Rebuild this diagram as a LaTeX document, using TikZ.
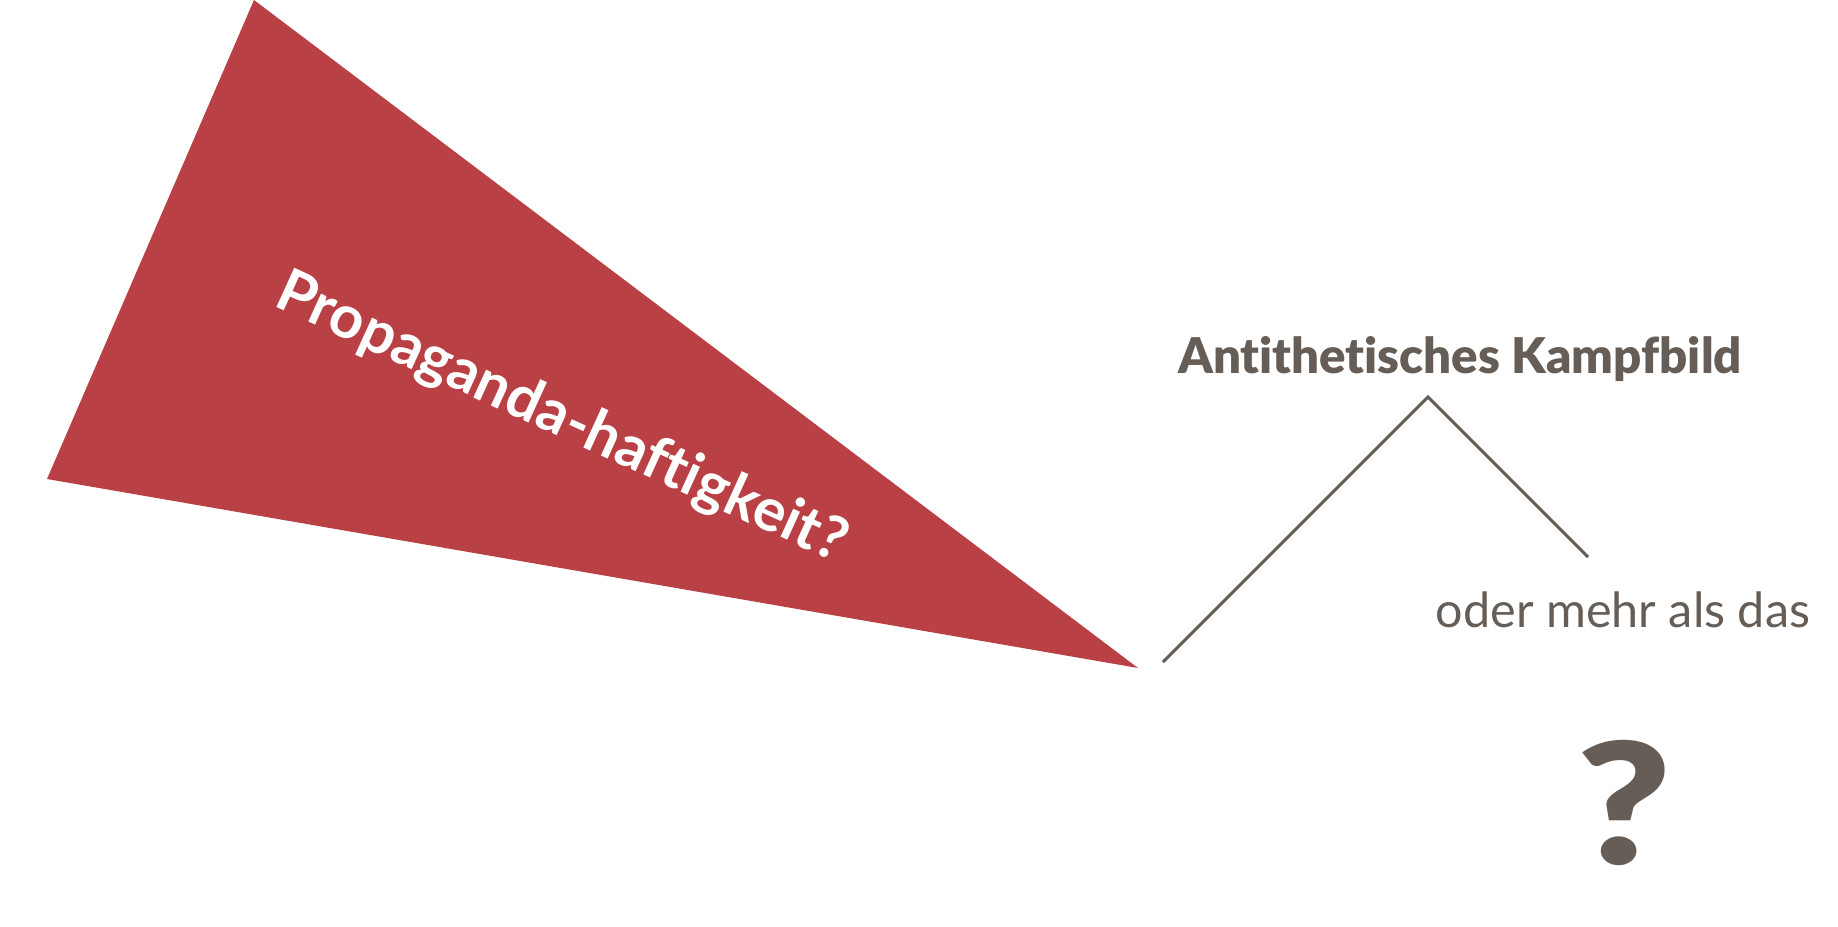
\documentclass[tikz,border=0pt]{standalone}
\usepackage{fontspec}
\setmainfont[Ligatures=NoCommon]{Lato}
\newfontfamily\latoblack[Ligatures=NoCommon]{Lato Black}
\usetikzlibrary{
    positioning,
    calc
}
\definecolor{WedgeRed}{RGB}{185,64,68}
\definecolor{WarmGray}{RGB}{101,93,86}
\tikzset{
  wedge/.style   = {fill=WedgeRed, draw=none},
  wedgetxt/.style= {text=white, font=\bfseries\fontsize{17}{18}\selectfont, rotate=-24.5},
  title/.style   = {text=WarmGray, font=\latoblack\fontsize{14}{15}\selectfont},
  sub/.style     = {text=WarmGray, font=\fontsize{13.8}{14}\selectfont},
  qmark/.style   = {text=WarmGray, font=\latoblack\fontsize{48}{48}\selectfont, xscale=1.2},
  branch/.style  = {draw=WarmGray, line width=0.85pt}
}

\begin{document}
\begin{tikzpicture}[x=1cm,y=1cm]
\useasboundingbox (0,0) rectangle (18.38,-9.26);
% red wedge
\coordinate (W1) at (2.54,0);
\coordinate (W2) at (0.47,-4.79);
\coordinate (W3) at (11.38,-6.68);
\fill[wedge] (W1) -- (W2) -- (W3) -- cycle;
\node[wedgetxt] (prop) at (5.61,-4.19) {Propaganda-haftigkeit?};
% right side
\node[title,anchor=base] (kampf) at (14.60,-3.73) {Antithetisches Kampfbild};
\coordinate (peak) at (14.28,-3.97);
\coordinate (left) at (11.63,-6.62);
\coordinate (right) at (15.88,-5.57);
\draw[branch] (left) -- (peak) -- (right);
\node[sub,anchor=base] (mehr) at (16.23,-6.27) {oder mehr als das};
\node[qmark,anchor=base] (frage) at (16.24,-8.64) {?};
\end{tikzpicture}
\end{document}
